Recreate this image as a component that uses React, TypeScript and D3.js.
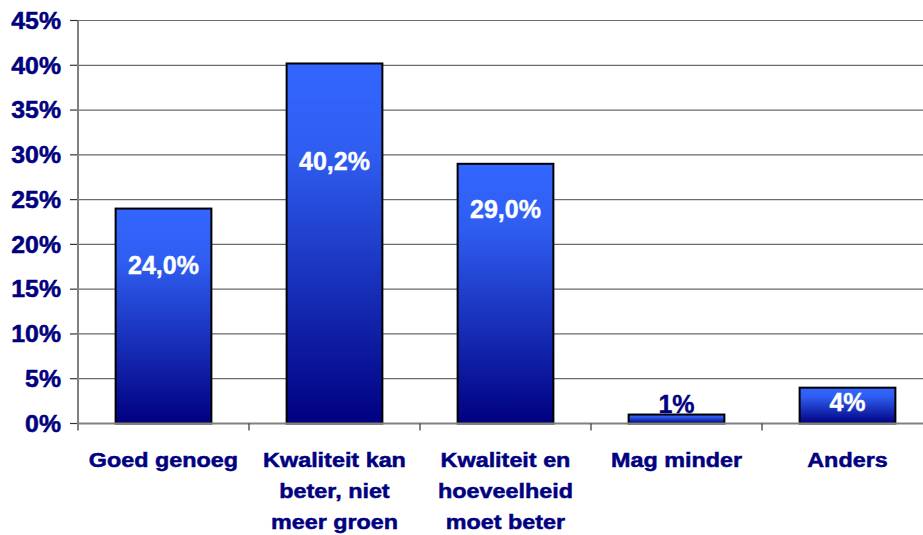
import React from "react";
import * as d3 from "d3";

const categories: string[][] = [
  ["Goed genoeg"],
  ["Kwaliteit kan", "beter, niet", "meer groen"],
  ["Kwaliteit en", "hoeveelheid", "moet beter"],
  ["Mag minder"],
  ["Anders"],
];
const values: number[] = [24.0, 40.2, 29.0, 1, 4];
const valueLabels: string[] = ["24,0%", "40,2%", "29,0%", "1%", "4%"];
const labelBaselineAt: number[] = [16.7, 28.3, 23.0, 1.2, 1.45];
const labelInside: boolean[] = [true, true, true, false, true];
const yTicks: number[] = [0, 5, 10, 15, 20, 25, 30, 35, 40, 45];

const W = 923;
const H = 535;
const left = 78;
const top = 20.5;
const bottom = 423.5;
const catW = 171;
const NAVY = "#000080";
const FONT = "'Liberation Sans', Arial, sans-serif";

export default function App() {
  const y = d3.scaleLinear().domain([0, 45]).range([bottom, top]);
  const x = d3
    .scaleBand<number>()
    .domain(values.map((_, i) => i))
    .range([left, left + catW * values.length])
    .paddingInner(0.44)
    .paddingOuter(0.22);
  const bw = x.bandwidth();

  return (
    <svg
      width={W}
      height={H}
      style={{ position: "absolute", left: 0, top: 0, background: "#fff" }}
      fontFamily={FONT}
    >
      <defs>
        <linearGradient id="barGrad" x1="0" y1="0" x2="0" y2="1">
          <stop offset="0" stopColor="#3366FF" />
          <stop offset="0.25" stopColor="#2f5df0" />
          <stop offset="1" stopColor="#000080" />
        </linearGradient>
      </defs>
      {yTicks.map((t) => (
        <g key={t}>
          {t > 0 && (
            <line x1={left} x2={W} y1={y(t)} y2={y(t)} stroke="#6b6b6b" strokeWidth={1.2} />
          )}
          <line x1={left - 8} x2={left} y1={y(t)} y2={y(t)} stroke="#333" strokeWidth={1.2} />
          <text
            x={61}
            y={y(t)}
            dy="0.36em"
            textAnchor="end"
            fontSize={23}
            fontWeight="bold"
            fill={NAVY}
            stroke={NAVY}
            strokeWidth={0.5}
            transform={`translate(61,0) scale(1.08,1) translate(-61,0)`}
          >
            {t}%
          </text>
        </g>
      ))}
      {values.map((v, i) => (
        <rect
          key={i}
          x={x(i)!}
          y={y(v)}
          width={bw}
          height={y(0) - y(v)}
          fill="url(#barGrad)"
          stroke="#000"
          strokeWidth={2}
        />
      ))}
      <line x1={left} x2={left} y1={top} y2={bottom + 7} stroke="#808080" strokeWidth={2} />
      <line x1={left} x2={W} y1={bottom} y2={bottom} stroke="#808080" strokeWidth={2} />
      {values.map((_, i) => (
        <line
          key={i}
          x1={left + catW * (i + 1)}
          x2={left + catW * (i + 1)}
          y1={bottom}
          y2={bottom + 7}
          stroke="#333"
          strokeWidth={1.2}
        />
      ))}
      {values.map((v, i) => (
        <text
          key={i}
          x={x(i)! + bw / 2}
          y={y(labelBaselineAt[i])}
          textAnchor="middle"
          fontSize={25}
          fontWeight="bold"
          fill={labelInside[i] ? "#fff" : NAVY}
          stroke={labelInside[i] ? "#fff" : NAVY}
          strokeWidth={0.4}
        >
          {valueLabels[i]}
        </text>
      ))}
      {categories.map((lines, i) => {
        const cx = x(i)! + bw / 2;
        return (
          <text
            key={i}
            textAnchor="middle"
            fontSize={20.5}
            fontWeight="bold"
            fill={NAVY}
            stroke={NAVY}
            strokeWidth={0.5}
            transform={`translate(${cx},0) scale(1.14,1) translate(${-cx},0)`}
          >
            {lines.map((l, j) => (
              <tspan key={j} x={cx} y={467 + j * 31.2}>
                {l}
              </tspan>
            ))}
          </text>
        );
      })}
    </svg>
  );
}
